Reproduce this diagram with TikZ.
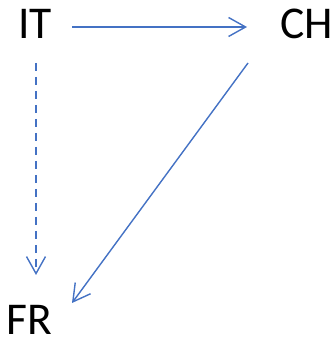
\documentclass[tikz,border=0pt]{standalone}
\usepackage{fontspec}
\setmainfont{Carlito}
\usetikzlibrary{arrows.meta}
\definecolor{linkblue}{RGB}{68,114,196}
\tikzset{
  lbl/.style={inner sep=0pt, anchor=base west, text depth=0pt, font=\fontsize{45.5}{50}\selectfont},
  link/.style={draw=linkblue, line width=1.4pt, -{Straight Barb[length=17pt,width=19pt,line width=1.4pt]}},
  dlink/.style={link, dash pattern=on 8pt off 6pt}
}
\begin{document}
\begin{tikzpicture}[x=1pt,y=1pt]
\useasboundingbox (0,0) rectangle (333,342);
\node[lbl] (IT) at (18,303) {IT};
\node[lbl] (CH) at (280,303) {CH};
\node[lbl] (FR) at (6,8) {FR};
\coordinate (itR) at (72,315);
\coordinate (chL) at (247,315);
\coordinate (itB) at (36,279);
\coordinate (frT) at (36,67);
\coordinate (chB) at (248,279);
\coordinate (frR) at (72,39);
\draw[link] (itR) -- (chL);
\draw[dlink] (itB) -- (frT);
\draw[link] (chB) -- (frR);
\end{tikzpicture}
\end{document}
